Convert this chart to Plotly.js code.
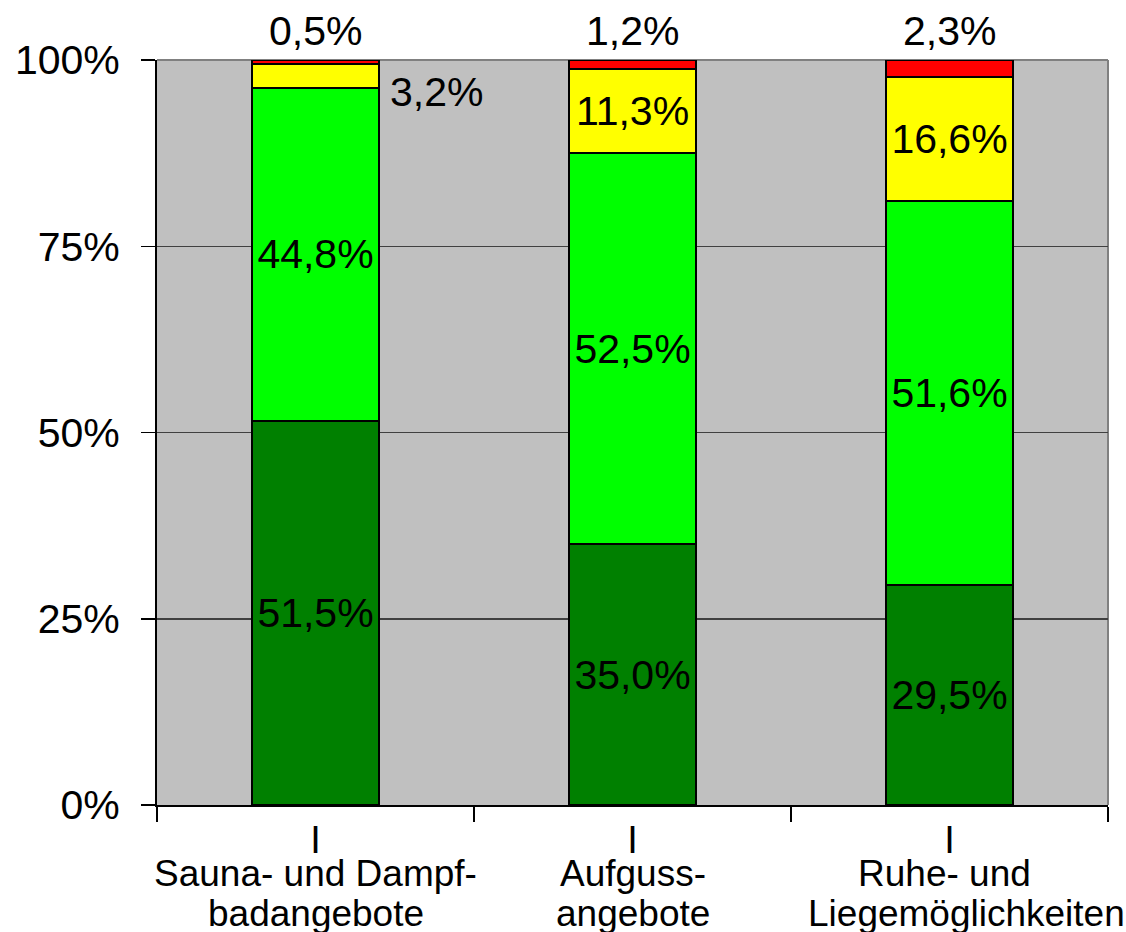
<!DOCTYPE html>
<html>
<head>
<meta charset="utf-8">
<script src="https://cdn.plot.ly/plotly-3.0.1.min.js"></script>
<style>html,body{margin:0;padding:0;background:#fff;}#chart{width:1126px;height:932px;}</style>
</head>
<body>
<div id="chart"></div>
<script>
// ---- data ----
const categories = ['Sauna- und Dampfbadangebote', 'Aufgussangebote', 'Ruhe- und Liegemöglichkeiten'];
const catLine1 = ['Sauna- und Dampf-', 'Aufguss-', 'Ruhe- und '];
const catLine2 = ['badangebote', 'angebote', 'Liegemöglichkeiten'];
const tickMarks = ['I', 'I', 'I'];
const seriesDarkGreen = [51.5, 35.0, 29.5];
const seriesLightGreen = [44.8, 52.5, 51.6];
const seriesYellow = [3.2, 11.3, 16.6];
const seriesRed = [0.5, 1.2, 2.3];
const yTicks = [0, 25, 50, 75, 100];

const fmt = v => v.toFixed(1).replace('.', ',') + '%';
const FONT = 'Liberation Sans, Arial, sans-serif';

function bar(vals, color, textpos) {
  return {
    type: 'bar', x: categories, y: vals, width: 0.4,
    marker: {color: color, line: {color: '#000', width: 2}},
    text: vals.map(fmt), textposition: textpos, insidetextanchor: 'middle',
    constraintext: 'none', cliponaxis: false,
    textfont: {family: FONT, size: 41, color: '#000'},
    hoverinfo: 'skip', showlegend: false
  };
}

const data = [
  bar(seriesDarkGreen, '#008000', 'inside'),
  bar(seriesLightGreen, '#00FF00', 'inside'),
  bar(seriesYellow, '#FFFF00', seriesYellow.map(v => v < 5 ? 'none' : 'inside')),
  bar(seriesRed, '#FF0000', 'none')
];

const annotations = [];
// red values above plot
categories.forEach((c, i) => {
  annotations.push({x: c, y: 100, xref: 'x', yref: 'y', yanchor: 'bottom', yshift: 4,
    text: fmt(seriesRed[i]), showarrow: false, font: {family: FONT, size: 41, color: '#000'}});
});
// small yellow values next to bar
categories.forEach((c, i) => {
  if (seriesYellow[i] < 5) {
    annotations.push({x: c, y: 100, xref: 'x', yref: 'y', xanchor: 'left', yanchor: 'top',
      xshift: 72, yshift: -7,
      text: fmt(seriesYellow[i]), showarrow: false, font: {family: FONT, size: 41, color: '#000'}});
  }
});
// category labels (two lines each)
const xShift2 = [0, 0, 17];
categories.forEach((c, i) => {
  annotations.push({x: c, y: 0, xref: 'x', yref: 'paper', yanchor: 'top', yshift: -47, borderpad: 0,
    text: catLine1[i], showarrow: false, font: {family: FONT, size: 37, color: '#000'}});
  annotations.push({x: c, y: 0, xref: 'x', yref: 'paper', yanchor: 'top', yshift: -87, xshift: xShift2[i], borderpad: 0,
    text: catLine2[i], showarrow: false, font: {family: FONT, size: 37, color: '#000'}});
});

const layout = {
  width: 1126, height: 932,
  margin: {l: 157, r: 18, t: 60, b: 127},
  paper_bgcolor: '#FFFFFF', plot_bgcolor: '#C0C0C0',
  barmode: 'stack', bargap: 0.6,
  font: {family: FONT, color: '#000'},
  xaxis: {
    type: 'category', range: [-0.5, 2.5], autorange: false,
    tickvals: categories, ticktext: tickMarks,
    tickson: 'boundaries', ticks: 'outside', ticklen: 15, tickwidth: 1.5, tickcolor: '#000',
    showline: true, linecolor: '#000', linewidth: 2, showgrid: false,
    tickfont: {family: FONT, size: 38, color: '#000'}, fixedrange: true
  },
  yaxis: {
    range: [0, 100], autorange: false, tickvals: yTicks, ticktext: yTicks.map(v => v + '%'),
    ticks: 'outside', ticklen: 14, tickwidth: 1.5, tickcolor: '#000',
    ticklabelstandoff: 13,
    showline: true, linecolor: '#000', linewidth: 2,
    showgrid: true, gridcolor: '#404040', gridwidth: 1.5, zeroline: false,
    tickfont: {family: FONT, size: 41, color: '#000'}, fixedrange: true
  },
  shapes: [
    {type: 'line', xref: 'paper', yref: 'paper', x0: 0, x1: 1, y0: 1, y1: 1, line: {color: '#808080', width: 2}, layer: 'below'},
    {type: 'line', xref: 'paper', yref: 'paper', x0: 1, x1: 1, y0: 0, y1: 1, line: {color: '#808080', width: 2}, layer: 'below'}
  ],
  annotations: annotations
};

Plotly.newPlot('chart', data, layout, {displayModeBar: false, staticPlot: true});
</script>
</body>
</html>
